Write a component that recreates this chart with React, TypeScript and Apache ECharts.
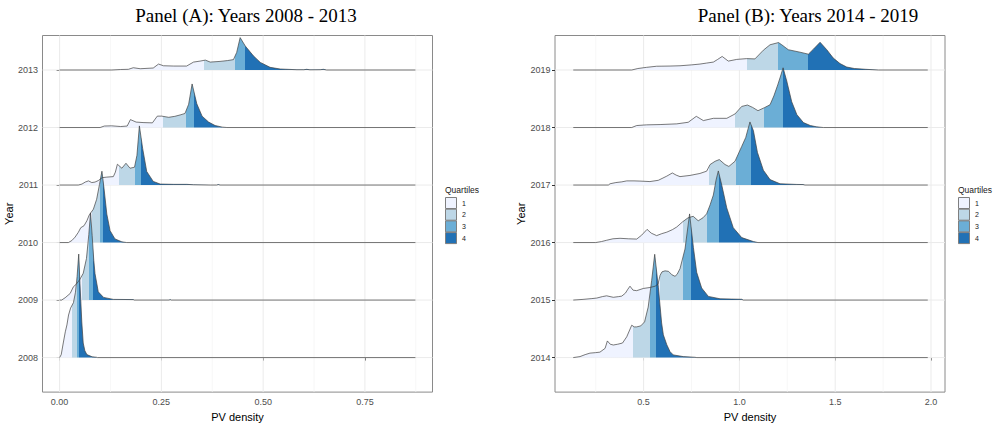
import React, { useEffect, useRef } from "react";
import * as echarts from "echarts";

// Brewer "Blues" fills for the four quartile bands
const quartileColors = ["#EFF3FF", "#BDD7E7", "#6BAED6", "#2171B5"];
const quartileLabels = ["1", "2", "3", "4"];

const yearsA = [2008, 2009, 2010, 2011, 2012, 2013];
const yearsB = [2014, 2015, 2016, 2017, 2018, 2019];

const ticksA = [0, 0.25, 0.5, 0.75];
const minorTicksA = [0.125, 0.375, 0.625, 0.875];
const ticksB = [0.5, 1.0, 1.5, 2.0];
const minorTicksB = [0.25, 0.75, 1.25, 1.75];

// Kernel density of PV density per year: [PV density, density]
const density2008 = [[0, 0], [0.004, 0.3], [0.009, 1.47], [0.014, 2.6], [0.018, 3.3], [0.022, 4.3], [0.027, 5.0], [0.034, 5.55], [0.039, 6.6], [0.043, 8.2], [0.047, 10.45], [0.05, 7.5], [0.0545, 3.6], [0.058, 1.47], [0.062, 0.7], [0.067, 0.3], [0.08, 0.08], [0.091, 0.03], [0.093, 0]];
const density2009 = [[0.005, 0], [0.0135, 0.23], [0.026, 0.67], [0.034, 1.35], [0.041, 1.6], [0.05, 2.1], [0.058, 2.7], [0.066, 4.2], [0.0717, 6.6], [0.076, 8.8], [0.08, 6.5], [0.084, 4.0], [0.087, 2.67], [0.095, 0.83], [0.108, 0.27], [0.132, 0.07], [0.181, 0.05], [0.183, 0], [0.269, 0], [0.2715, 0.05], [0.274, 0]];
const density2010 = [[0.0216, 0], [0.03, 0.2], [0.038, 0.55], [0.046, 1.03], [0.052, 1.5], [0.06, 1.7], [0.067, 2.2], [0.073, 2.8], [0.083, 3.37], [0.091, 4.37], [0.098, 5.87], [0.104, 7.2], [0.109, 5.5], [0.116, 2.87], [0.124, 1.2], [0.136, 0.37], [0.153, 0.07], [0.165, 0]];
const density2011 = [[0.046, 0], [0.055, 0.1], [0.063, 0.3], [0.071, 0.42], [0.079, 0.25], [0.087, 0.3], [0.095, 0.45], [0.105, 0.75], [0.116, 0.8], [0.132, 0.85], [0.137, 1.3], [0.142, 2.1], [0.153, 1.7], [0.163, 2.2], [0.173, 1.7], [0.184, 1.8], [0.19, 3.0], [0.196, 5.97], [0.204, 3.7], [0.214, 1.37], [0.23, 0.37], [0.247, 0.1], [0.28, 0.07], [0.312, 0.07], [0.329, 0.03], [0.37, 0], [0.386, 0], [0.39, 0.05], [0.394, 0]];
const density2012 = [[0.0995, 0], [0.11, 0.15], [0.128, 0.17], [0.15, 0.1], [0.166, 0.15], [0.174, 0.8], [0.188, 0.55], [0.205, 0.5], [0.228, 0.47], [0.24, 1.15], [0.251, 1.15], [0.268, 1.03], [0.283, 1.13], [0.296, 1.27], [0.308, 1.42], [0.317, 2.35], [0.3255, 4.4], [0.337, 2.4], [0.35, 1.15], [0.366, 0.55], [0.382, 0.2], [0.4, 0.04], [0.411, 0]];
const density2013 = [[0.128, 0], [0.15, 0.05], [0.169, 0.07], [0.181, 0.23], [0.198, 0.13], [0.23, 0.2], [0.243, 0.6], [0.255, 0.43], [0.28, 0.4], [0.312, 0.4], [0.329, 0.8], [0.345, 0.9], [0.358, 1.0], [0.37, 0.8], [0.394, 0.87], [0.412, 0.95], [0.427, 1.05], [0.435, 1.77], [0.4435, 3.27], [0.456, 2.43], [0.476, 1.43], [0.493, 0.77], [0.517, 0.27], [0.542, 0.1], [0.583, 0.03], [0.6, 0.03], [0.607, 0.07], [0.615, 0.02], [0.64, 0.03], [0.648, 0.07], [0.656, 0]];

const density2014 = [[0.133, 0], [0.168, 0.1], [0.195, 0.3], [0.22, 0.45], [0.25, 0.5], [0.272, 0.55], [0.299, 0.93], [0.311, 1.68], [0.326, 1.35], [0.342, 1.27], [0.365, 1.35], [0.39, 1.47], [0.412, 2.1], [0.438, 3.27], [0.451, 3.1], [0.464, 3.1], [0.485, 3.2], [0.505, 3.6], [0.524, 5.1], [0.542, 7.77], [0.558, 10.43], [0.577, 7.1], [0.594, 3.5], [0.603, 2.3], [0.621, 1.3], [0.638, 0.6], [0.655, 0.27], [0.707, 0.1], [0.768, 0.03], [0.778, 0]];
const density2015 = [[0.133, 0], [0.184, 0.07], [0.23, 0.15], [0.255, 0.2], [0.285, 0.35], [0.307, 0.43], [0.342, 0.28], [0.37, 0.35], [0.386, 0.4], [0.405, 0.7], [0.418, 1.1], [0.429, 1.4], [0.445, 1.0], [0.464, 0.95], [0.498, 1.17], [0.533, 1.27], [0.56, 1.4], [0.575, 1.6], [0.586, 2.5], [0.596, 2.85], [0.612, 2.95], [0.63, 2.9], [0.648, 2.55], [0.664, 2.4], [0.675, 2.6], [0.69, 3.17], [0.716, 5.15], [0.74, 8.7], [0.76, 5.3], [0.777, 2.8], [0.803, 1.22], [0.838, 0.37], [0.899, 0.13], [0.96, 0.1], [1.012, 0.08], [1.02, 0]];
const density2016 = [[0.25, 0], [0.28, 0.1], [0.307, 0.23], [0.34, 0.38], [0.377, 0.43], [0.42, 0.38], [0.464, 0.35], [0.49, 0.75], [0.518, 1.33], [0.54, 0.95], [0.568, 0.7], [0.595, 0.9], [0.621, 1.05], [0.65, 1.3], [0.673, 1.57], [0.704, 2.1], [0.732, 2.5], [0.759, 2.65], [0.785, 2.2], [0.81, 2.5], [0.829, 2.9], [0.847, 3.8], [0.864, 4.8], [0.878, 6.3], [0.89, 7.23], [0.908, 5.8], [0.934, 3.5], [0.968, 1.5], [1.012, 0.5], [1.073, 0.1], [1.097, 0]];
const density2017 = [[0.316, 0], [0.325, 0.13], [0.355, 0.25], [0.386, 0.32], [0.412, 0.42], [0.45, 0.42], [0.481, 0.4], [0.533, 0.35], [0.577, 0.48], [0.621, 0.9], [0.65, 1.22], [0.67, 1.0], [0.69, 0.85], [0.742, 0.97], [0.794, 1.17], [0.829, 1.4], [0.847, 2.07], [0.873, 2.4], [0.895, 2.57], [0.925, 2.07], [0.945, 1.88], [0.977, 2.4], [1.012, 3.9], [1.033, 4.8], [1.055, 6.37], [1.073, 5.5], [1.094, 3.3], [1.125, 1.5], [1.16, 0.55], [1.212, 0.13], [1.3, 0.06], [1.332, 0.05], [1.342, 0]];
const density2018 = [[0.438, 0], [0.464, 0.2], [0.516, 0.27], [0.586, 0.3], [0.673, 0.37], [0.733, 0.53], [0.775, 1.13], [0.812, 0.7], [0.864, 0.93], [0.934, 0.93], [0.977, 1.37], [1.012, 2.13], [1.042, 2.27], [1.069, 2.03], [1.097, 1.7], [1.13, 2.0], [1.16, 2.3], [1.18, 3.2], [1.2, 4.3], [1.215, 5.2], [1.228, 6.03], [1.247, 4.7], [1.273, 2.6], [1.3, 1.3], [1.334, 0.5], [1.37, 0.2], [1.403, 0.07], [1.438, 0]];
const density2019 = [[0.438, 0], [0.47, 0.15], [0.516, 0.27], [0.568, 0.38], [0.638, 0.4], [0.69, 0.43], [0.751, 0.52], [0.794, 0.6], [0.829, 0.7], [0.864, 0.8], [0.885, 1.05], [0.91, 1.37], [0.942, 0.9], [0.986, 1.07], [1.038, 1.15], [1.081, 1.12], [1.125, 2.0], [1.16, 2.55], [1.204, 2.77], [1.221, 2.55], [1.255, 2.05], [1.316, 1.8], [1.36, 1.6], [1.386, 2.1], [1.421, 2.8], [1.456, 2.05], [1.49, 1.2], [1.525, 0.65], [1.56, 0.3], [1.6, 0.15], [1.66, 0.07], [1.725, 0]];

// Quartile cut points per year: [Q1, median, Q3]
const quartiles2008 = [0.03, 0.042, 0.048];
const quartiles2009 = [0.0545, 0.0732, 0.0816];
const quartiles2010 = [0.08, 0.099, 0.106];
const quartiles2011 = [0.147, 0.184, 0.199];
const quartiles2012 = [0.254, 0.31, 0.33];
const quartiles2013 = [0.355, 0.43, 0.456];
const quartiles2014 = [0.443, 0.533, 0.565];
const quartiles2015 = [0.586, 0.707, 0.747];
const quartiles2016 = [0.704, 0.832, 0.894];
const quartiles2017 = [0.841, 0.981, 1.059];
const quartiles2018 = [0.977, 1.128, 1.226];
const quartiles2019 = [1.038, 1.203, 1.36];

// density units -> row spacing on the Year axis
const RIDGE_SCALE = 0.1722;
const Y_MIN = -0.6;
const Y_MAX = 5.6;

const SANS = "'Liberation Sans', Arial, sans-serif";
const SERIF = "'Liberation Serif', 'DejaVu Serif', serif";

const panels = [
  {
    title: "Panel (A): Years 2008 - 2013",
    years: yearsA,
    curves: [density2008, density2009, density2010, density2011, density2012, density2013],
    quartiles: [quartiles2008, quartiles2009, quartiles2010, quartiles2011, quartiles2012, quartiles2013],
    xMin: -0.042,
    xMax: 0.916,
    lineFrom: 0,
    lineTo: 0.874,
    ticks: ticksA,
    minor: minorTicksA,
    digits: 2,
    grid: { left: 42.5, top: 35.5, width: 390, height: 360.5 },
    titleX: 246,
    legendX: 445,
    nameGap: 23,
  },
  {
    title: "Panel (B): Years 2014 - 2019",
    years: yearsB,
    curves: [density2014, density2015, density2016, density2017, density2018, density2019],
    quartiles: [quartiles2014, quartiles2015, quartiles2016, quartiles2017, quartiles2018, quartiles2019],
    xMin: 0.0376,
    xMax: 2.073,
    lineFrom: 0.133,
    lineTo: 1.983,
    ticks: ticksB,
    minor: minorTicksB,
    digits: 1,
    grid: { left: 555, top: 35.5, width: 390, height: 360.5 },
    titleX: 808,
    legendX: 958,
    nameGap: 22,
  },
];

function buildOption() {
  const grids: any[] = [];
  const xAxes: any[] = [];
  const yAxes: any[] = [];
  const series: any[] = [];
  const visualMaps: any[] = [];
  const graphics: any[] = [];

  panels.forEach((p, pi) => {
    grids.push({
      ...p.grid,
      show: true,
      borderColor: "#8a8a8a",
      borderWidth: 1,
      backgroundColor: "#ffffff",
      containLabel: false,
    });

    xAxes.push({
      type: "value",
      gridIndex: pi,
      min: p.xMin,
      max: p.xMax,
      name: "PV density",
      nameLocation: "middle",
      nameGap: 13,
      nameTextStyle: { color: "#000", fontSize: 11, fontFamily: SANS },
      axisLine: { show: false },
      axisTick: { show: true, customValues: p.ticks, length: 3, lineStyle: { color: "#333", width: 1 } },
      axisLabel: {
        customValues: p.ticks,
        formatter: (v: number) => v.toFixed(p.digits),
        color: "#4d4d4d",
        fontSize: 9,
        fontFamily: SANS,
        margin: 5,
      },
      splitLine: { show: false },
    });

    yAxes.push({
      type: "value",
      gridIndex: pi,
      min: Y_MIN,
      max: Y_MAX,
      name: "Year",
      nameLocation: "middle",
      nameRotate: 90,
      nameGap: p.nameGap,
      nameTextStyle: { color: "#000", fontSize: 11, fontFamily: SANS },
      axisLine: { show: false },
      axisTick: { show: true, customValues: p.years.map((_, i) => i), length: 3, lineStyle: { color: "#333", width: 1 } },
      axisLabel: {
        customValues: p.years.map((_, i) => i),
        formatter: (v: number) => String(p.years[Math.round(v)]),
        color: "#4d4d4d",
        fontSize: 9,
        fontFamily: SANS,
        margin: 4.5,
      },
      splitLine: { show: false },
    });

    // panel grid lines
    const gridLine = (data: number[][], major: boolean) => ({
      type: "line",
      xAxisIndex: pi,
      yAxisIndex: pi,
      silent: true,
      symbol: "none",
      data,
      lineStyle: { color: major ? "#ebebeb" : "#f4f4f4", width: major ? 1 : 0.7 },
      z: 1,
    });
    p.minor.forEach((v) => series.push(gridLine([[v, Y_MIN], [v, Y_MAX]], false)));
    p.ticks.forEach((v) => series.push(gridLine([[v, Y_MIN], [v, Y_MAX]], true)));
    p.years.forEach((_, r) => series.push(gridLine([[p.xMin, r], [p.xMax, r]], true)));

    // ridges, top row first so lower rows overlap the ones above
    for (let r = p.years.length - 1; r >= 0; r--) {
      const curve = p.curves[r];
      const q = p.quartiles[r];
      const areaIndex = series.length;
      series.push({
        type: "line",
        name: `fill-${p.years[r]}`,
        xAxisIndex: pi,
        yAxisIndex: pi,
        silent: true,
        symbol: "none",
        data: curve.map(([x, d]) => [x, r + d * RIDGE_SCALE]),
        lineStyle: { width: 0, opacity: 0 },
        areaStyle: { origin: r, opacity: 1 },
        z: 2,
      });
      visualMaps.push({
        type: "piecewise",
        show: false,
        dimension: 0,
        seriesIndex: areaIndex,
        pieces: [
          { lt: q[0], color: quartileColors[0] },
          { gte: q[0], lt: q[1], color: quartileColors[1] },
          { gte: q[1], lt: q[2], color: quartileColors[2] },
          { gte: q[2], color: quartileColors[3] },
        ],
      });
      series.push({
        type: "line",
        name: `ridge-${p.years[r]}`,
        xAxisIndex: pi,
        yAxisIndex: pi,
        silent: true,
        symbol: "none",
        data: [
          [p.lineFrom, r],
          ...curve.map(([x, d]) => [x, r + d * RIDGE_SCALE]),
          [p.lineTo, r],
        ],
        lineStyle: { color: "#404040", width: 0.7 },
        z: 2,
      });
    }

    // panel title
    graphics.push({
      type: "text",
      x: p.titleX,
      y: 15,
      style: {
        text: p.title,
        fill: "#000",
        font: `19px ${SERIF}`,
        textAlign: "center",
        textVerticalAlign: "middle",
      },
    });

    // quartile legend
    graphics.push({
      type: "text",
      x: p.legendX,
      y: 190,
      style: {
        text: "Quartiles",
        fill: "#1a1a1a",
        font: `8.5px ${SANS}`,
        textAlign: "left",
        textVerticalAlign: "middle",
      },
    });
    quartileColors.forEach((c, i) => {
      graphics.push({
        type: "rect",
        shape: { x: p.legendX + 0.5, y: 197.5 + i * 11.7, width: 11, height: 11 },
        style: { fill: c, stroke: "#7f7f7f", lineWidth: 1 },
      });
      graphics.push({
        type: "text",
        x: p.legendX + 17,
        y: 203 + i * 11.7,
        style: {
          text: quartileLabels[i],
          fill: "#1a1a1a",
          font: `7px ${SANS}`,
          textAlign: "left",
          textVerticalAlign: "middle",
        },
      });
    });
  });

  return {
    animation: false,
    backgroundColor: "#ffffff",
    grid: grids,
    xAxis: xAxes,
    yAxis: yAxes,
    visualMap: visualMaps,
    series,
    graphic: graphics,
  };
}

export default function App() {
  const ref = useRef<HTMLDivElement>(null);

  useEffect(() => {
    if (!ref.current) return;
    const chart = echarts.init(ref.current, null, { renderer: "svg" });
    chart.setOption(buildOption() as any);
    return () => chart.dispose();
  }, []);

  return (
    <div
      ref={ref}
      style={{ position: "fixed", left: 0, top: 0, width: 998, height: 427, background: "#fff" }}
    />
  );
}
